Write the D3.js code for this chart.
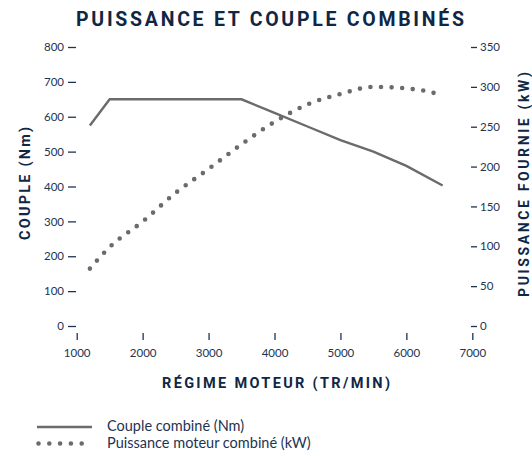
<!DOCTYPE html>
<html>
<head>
<meta charset="utf-8">
<script src="https://cdn.jsdelivr.net/npm/d3@7"></script>
<style>
  body { margin: 0; background: #fff; }
  .tick text { font-family: Lato, sans-serif; font-size: 11.5px; fill: #1d3452; }
  .tick line { stroke: #1d3452; stroke-width: 1.3; }
</style>
</head>
<body>
<div id="chart"></div>
<script>
// data
var torqueRpm = [1200, 1500, 3500, 4000, 4500, 5000, 5500, 6000, 6550];
var torqueNm = [575, 650, 650, 611, 572, 533, 500, 459, 403];
var powerRpm = [1200, 1500, 2000, 2500, 3000, 3500, 4000, 4500, 5000, 5500, 6000, 6500, 6550];
var powerKw = [72, 99, 131, 167, 197, 228, 256, 278, 291, 300, 298, 290, 288];
var xTicks = [1000, 2000, 3000, 4000, 5000, 6000, 7000];
var leftTicks = [0, 100, 200, 300, 400, 500, 600, 700, 800];
var rightTicks = [0, 50, 100, 150, 200, 250, 300, 350];
var legendLabels = ['Couple combiné (Nm)', 'Puissance moteur combiné (kW)'];

var width = 532, height = 456;
var navy = '#1d3452', gray = '#6b6b6b';

var svg = d3.select('#chart').append('svg').attr('width', width).attr('height', height);

var x = d3.scaleLinear().domain([1000, 7000]).range([76.7, 472.3]);
var yLeft = d3.scaleLinear().domain([0, 800]).range([326, 47]);
var yRight = d3.scaleLinear().domain([0, 350]).range([326, 47]);

// axes
var gx = svg.append('g').attr('transform', 'translate(0,333)')
    .call(d3.axisBottom(x).tickValues(xTicks).tickFormat(d3.format('d')).tickSize(7).tickPadding(9));
var gl = svg.append('g').attr('transform', 'translate(76,0)')
    .call(d3.axisLeft(yLeft).tickValues(leftTicks).tickSize(8).tickPadding(4));
var gr = svg.append('g').attr('transform', 'translate(471,0)')
    .call(d3.axisRight(yRight).tickValues(rightTicks).tickSize(6).tickPadding(3));
[gx, gl, gr].forEach(function(g) { g.select('.domain').remove(); });

// torque line
var torqueLine = d3.line()
    .x(function(d, i) { return x(torqueRpm[i]); })
    .y(function(d) { return yLeft(d); });
svg.append('path').datum(torqueNm)
    .attr('d', torqueLine)
    .attr('fill', 'none').attr('stroke', gray).attr('stroke-width', 2.4);

// power dotted line
var powerLine = d3.line()
    .curve(d3.curveMonotoneX)
    .x(function(d, i) { return x(powerRpm[i]); })
    .y(function(d) { return yRight(d); });
svg.append('path').datum(powerKw)
    .attr('d', powerLine)
    .attr('fill', 'none').attr('stroke', gray).attr('stroke-width', 4.6)
    .attr('stroke-linecap', 'round').attr('stroke-dasharray', '0,10.6');

// titles
function title(txt, px, py, size, len, rot) {
    svg.append('text')
        .attr('transform', 'translate(' + px + ',' + py + ')' + (rot ? ' rotate(-90)' : ''))
        .attr('text-anchor', 'middle')
        .attr('font-family', 'Roboto, sans-serif')
        .attr('font-weight', 'bold')
        .attr('font-size', size)
        .attr('fill', '#0f2745')
        .attr('textLength', len).attr('lengthAdjust', 'spacing')
        .text(txt);
}
title('PUISSANCE ET COUPLE COMBINÉS', 270, 26, 19.5, 388, false);
title('COUPLE (Nm)', 29.5, 183.5, 14.5, 113, true);
title('PUISSANCE FOURNIE (kW)', 529, 184.5, 14, 225, true);
title('RÉGIME MOTEUR (TR/MIN)', 276, 387.5, 14.5, 228, false);

// legend
var legend = svg.append('g');
legendLabels.forEach(function(lbl, i) {
    var ly = 427 + i * 16.5;
    var seg = legend.append('line')
        .attr('x1', 37).attr('x2', 92).attr('y1', ly).attr('y2', ly)
        .attr('stroke', gray);
    if (i === 0) {
        seg.attr('stroke-width', 2.4);
    } else {
        seg.attr('x1', 38.5).attr('stroke-width', 4.6)
            .attr('stroke-linecap', 'round').attr('stroke-dasharray', '0,10.8');
    }
    legend.append('text')
        .attr('x', 107).attr('y', ly + 4)
        .attr('font-family', 'Lato, sans-serif')
        .attr('font-size', 14.5)
        .attr('fill', navy)
        .text(lbl);
});
</script>
</body>
</html>
